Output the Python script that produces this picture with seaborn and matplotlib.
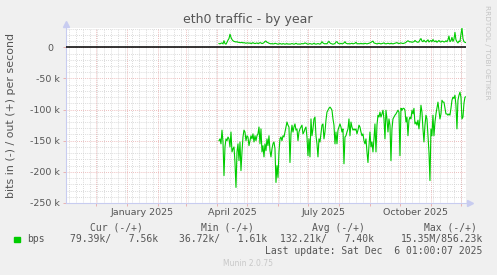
import matplotlib
matplotlib.use("Agg")
import matplotlib.pyplot as plt
import matplotlib.dates as mdates
from matplotlib.patches import Rectangle
import pandas as pd
import seaborn as sns

# ---------------- data (daily, kbit/s) ----------------
end_date = "2025-12-06"

in_kbps = [
    -150, -147, -155, -133, -152, -206, -160, -147, -150, -144,
    -147, -160, -136, -168, -163, -160, -185, -225, -168, -155,
    -182, -152, -198, -168, -144, -133, -136, -150, -142, -144,
    -158, -150, -142, -147, -139, -152, -142, -150, -142, -139,
    -128, -155, -131, -168, -158, -176, -155, -166, -147, -158,
    -142, -166, -176, -163, -155, -152, -163, -217, -190, -209,
    -168, -147, -144, -150, -142, -144, -136, -128, -120, -125,
    -128, -185, -139, -125, -136, -128, -123, -133, -131, -150,
    -136, -131,
    -128, -125, -139, -136, -131, -128, -144, -174, -147, -176,
    -115, -142, -131, -115, -112, -142, -155, -176, -147, -152,
    -139, -125, -123, -147, -136, -117, -104, -101, -98, -96,
    -98, -101, -115, -125, -155, -136, -155, -133, -128, -123,
    -128, -136, -131, -187, -144, -142, -136, -131, -115, -142,
    -120, -128, -133, -131, -133, -131, -139, -133, -125, -128,
    -136, -142, -139, -150, -155, -147, -168, -185, -158, -136,
    -160, -152, -168, -147, -123, -168, -125, -109, -112, -104,
    -112, -107, -101,
    -115, -147, -101, -115, -136, -115, -125, -182, -131, -115,
    -112, -109, -107, -104, -101, -104, -174, -98, -101, -98,
    -98, -101, -120, -112, -142, -117, -112, -115, -101, -107,
    -98, -123, -120, -125, -117, -131, -115, -93, -104, -131,
    -152, -125, -109, -115, -142, -168, -214, -131, -142, -109,
    -142, -120, -107, -98, -88, -101, -115, -107, -85, -88,
    -88, -98, -107, -107, -109, -107, -109, -98, -85, -80,
    -82, -77, -93, -131, -85, -77, -72, -80, -115, -112,
    -90, -80, -79.39,
]

out_kbps = [
    6.0, 5.5, 6.5, 7.0, 5.5, 10.5, 6.0, 5.0, 8.0, 11.5,
    14.0, 21.0, 16.0, 12.5, 10.5, 9.5, 9.0, 8.5, 9.0, 8.0,
    8.0, 7.5, 7.5, 8.0, 7.0, 7.5, 7.0, 6.5, 7.0, 7.0,
    6.5, 7.0, 6.0, 6.5, 7.5, 6.5, 6.0, 6.5, 7.0, 6.0,
    6.5, 7.5, 7.0, 6.0, 6.5, 7.5, 9.5, 10.0, 8.0, 7.5,
    6.5, 6.0, 5.5, 6.0, 5.5, 5.5, 6.5, 6.0, 5.5, 5.0,
    5.5, 6.0, 5.5, 5.0, 6.0, 5.5, 5.0, 5.5, 6.0, 5.0,
    5.5, 5.0, 5.5, 6.0, 5.5, 5.0, 5.5, 6.5, 5.5, 5.0,
    5.5, 5.0, 5.5, 6.0, 5.5, 6.0, 7.0, 6.5, 5.5, 5.0,
    5.5, 6.0, 5.5, 5.0, 5.5, 6.5, 5.5, 5.0, 5.5, 6.0,
    5.5, 5.0, 6.5, 9.0, 7.0, 6.0, 5.5, 6.0, 5.5, 8.0,
    9.5, 7.0, 6.0, 5.5, 5.0, 5.5, 6.0, 8.5, 9.0, 6.5,
    6.0, 5.5, 6.5, 5.5, 6.0, 7.0, 9.0, 6.5, 6.0, 5.5,
    6.0, 5.5, 6.0, 6.5, 5.5, 6.0, 6.5, 8.0, 6.0, 5.5,
    6.0, 5.5, 6.5, 5.5, 6.0, 5.5, 6.5, 6.0, 5.5, 6.0,
    6.5, 7.0, 8.0, 9.0, 10.0, 7.0, 6.5, 6.0, 5.5, 6.0,
    6.5, 6.0, 5.5, 6.0, 6.5, 7.0, 6.0, 5.5, 6.0, 6.5,
    6.0, 5.5, 6.5, 6.0, 5.5, 6.0, 6.5, 7.0, 7.5, 6.5,
    6.0, 6.5, 7.0, 6.5, 6.0, 6.5, 7.0, 8.0, 9.5, 10.5,
    9.5, 8.5, 9.0, 8.0, 8.5, 9.0, 11.0, 9.5, 8.5, 8.0,
    9.0, 12.0, 14.0, 10.0, 9.0, 11.5, 9.5, 8.5, 10.5, 12.0,
    8.5, 10.0, 11.0, 9.0, 12.5, 10.0, 9.0, 10.5, 8.0, 9.5,
    11.0, 9.0, 8.5, 10.0, 9.5, 8.5, 9.0, 10.5, 9.0, 12.0,
    18.0, 9.0, 10.5, 16.0, 9.5, 13.0, 24.0, 12.0, 9.0, 7.0,
    10.0, 9.0, 21.0, 31.0, 14.0, 9.0, 8.0, 7.56,
]

x_labels = ["January 2025", "April 2025", "July 2025", "October 2025"]
y_ticks_k = [0, -50, -100, -150, -200, -250]
legend_headers = ["Cur (-/+)", "Min (-/+)", "Avg (-/+)", "Max (-/+)"]
legend_values = ["79.39k/   7.56k", "36.72k/   1.61k", "132.21k/   7.40k", "15.35M/856.23k"]
series_name = "bps"
title = "eth0 traffic - by year"
ylabel = "bits in (-) / out (+) per second"
last_update = "Last update: Sat Dec  6 01:00:07 2025"

# ---------------- frame ----------------
dates = pd.date_range(end=end_date, periods=len(in_kbps), freq="D")
df = pd.DataFrame({
    "date": list(dates) * 2,
    "bps": [v * 1000 for v in in_kbps] + [v * 1000 for v in out_kbps],
    "dir": ["in"] * len(in_kbps) + ["out"] * len(out_kbps),
})

W, H = 497, 275
BG = "#F0F0F0"
TXT = "#555555"
GREEN = "#00CC00"
GRID = "#CFCFCF"
MGRID = "#E8A8A8"
AXC = "#C8CCF0"

fig = plt.figure(figsize=(W / 100, H / 100), dpi=100, facecolor=BG)
ax = fig.add_axes([66 / W, 1 - 203 / H, 400 / W, 175.5 / H])
ax.set_facecolor("white")

x0 = pd.Timestamp("2024-11-01")
x1 = pd.Timestamp("2025-12-06 01:00")
ax.set_xlim(x0, x1)
ax.set_ylim(-250000, 31800)

dotted = (0, (1, 1.5))
# horizontal grid
for v in range(-240000, 31000, 10000):
    major = (v % 50000 == 0)
    ax.axhline(v, color=MGRID if major else GRID, lw=0.6, ls=dotted, zorder=1)
# vertical grid
for d in pd.date_range("2024-11-04", x1, freq="7D"):
    ax.axvline(d, color=GRID, lw=0.6, ls=dotted, zorder=1)
month_starts = pd.date_range("2024-12-01", x1, freq="MS")
for d in month_starts:
    ax.axvline(d, color=MGRID, lw=0.6, ls=dotted, zorder=1.1)

# zero line
ax.axhline(0, color="black", lw=1.1, zorder=3)

sns.lineplot(data=df, x="date", y="bps", units="dir", estimator=None,
             color=GREEN, lw=0.8, ax=ax, zorder=4, legend=False)

# axes styling
for s in ["top", "right"]:
    ax.spines[s].set_visible(False)
for s in ["left", "bottom"]:
    ax.spines[s].set_color(AXC)
    ax.spines[s].set_linewidth(0.8)
ax.plot([0], [1.02], marker="^", ms=4, color=AXC, transform=ax.transAxes, clip_on=False)
ax.plot([1.01], [0], marker=">", ms=4, color=AXC, transform=ax.transAxes, clip_on=False)

ax.set_yticks([v * 1000 for v in y_ticks_k])
ax.set_yticklabels(["0  " if v == 0 else f"{v} k" for v in y_ticks_k])
ax.tick_params(axis="y", length=2, width=0.6, color=MGRID, pad=2.5, labelsize=6.8, labelcolor=TXT)

ax.set_xticks(month_starts)
ax.set_xticklabels([])
ax.tick_params(axis="x", which="major", length=2, width=0.6, color=MGRID)
label_pos = [pd.Timestamp(f"2025-{m:02d}-16 12:00") for m in (1, 4, 7, 10)]
ax.set_xticks(label_pos, minor=True)
ax.set_xticklabels(x_labels, minor=True)
ax.tick_params(axis="x", which="minor", length=0, pad=3.5, labelsize=6.8, labelcolor=TXT)
ax.set_xlabel("")
ax.set_ylabel("")

# texts
def ftext(x, y, s, **kw):
    fig.text(x / W, 1 - y / H, s, va="center", **kw)

ftext(248, 19, title, ha="center", fontsize=9, color=TXT)
ftext(11, 115, ylabel, ha="center", rotation=90, fontsize=7.9, color=TXT)
ftext(487.5, 52, "RRDTOOL / TOBI OETIKER", ha="center", rotation=270, fontsize=5.3, color="#C4C4C4")
ftext(248, 264, "Munin 2.0.75", ha="center", fontsize=5.5, color="#C8C8C8")

mono = dict(family="DejaVu Sans Mono", fontsize=7, color=TXT, ha="right")
hdr_right = [143, 253.5, 365, 476.7]
val_right = [157.7, 266.7, 374.3, 482.7]
for h, xr in zip(legend_headers, hdr_right):
    ftext(xr, 227.7, h, **mono)
for v, xr in zip(legend_values, val_right):
    ftext(xr, 239.3, v, **mono)
ftext(27, 239.3, series_name, family="DejaVu Sans Mono", fontsize=7, color=TXT, ha="left")
ftext(482.7, 250.7, last_update, **mono)
fig.patches.append(Rectangle((14 / W, 1 - 242.3 / H), 5.7 / W, 5.6 / H,
                             transform=fig.transFigure, color=GREEN, zorder=5))

fig.savefig("out.png", dpi=100, facecolor=BG)
